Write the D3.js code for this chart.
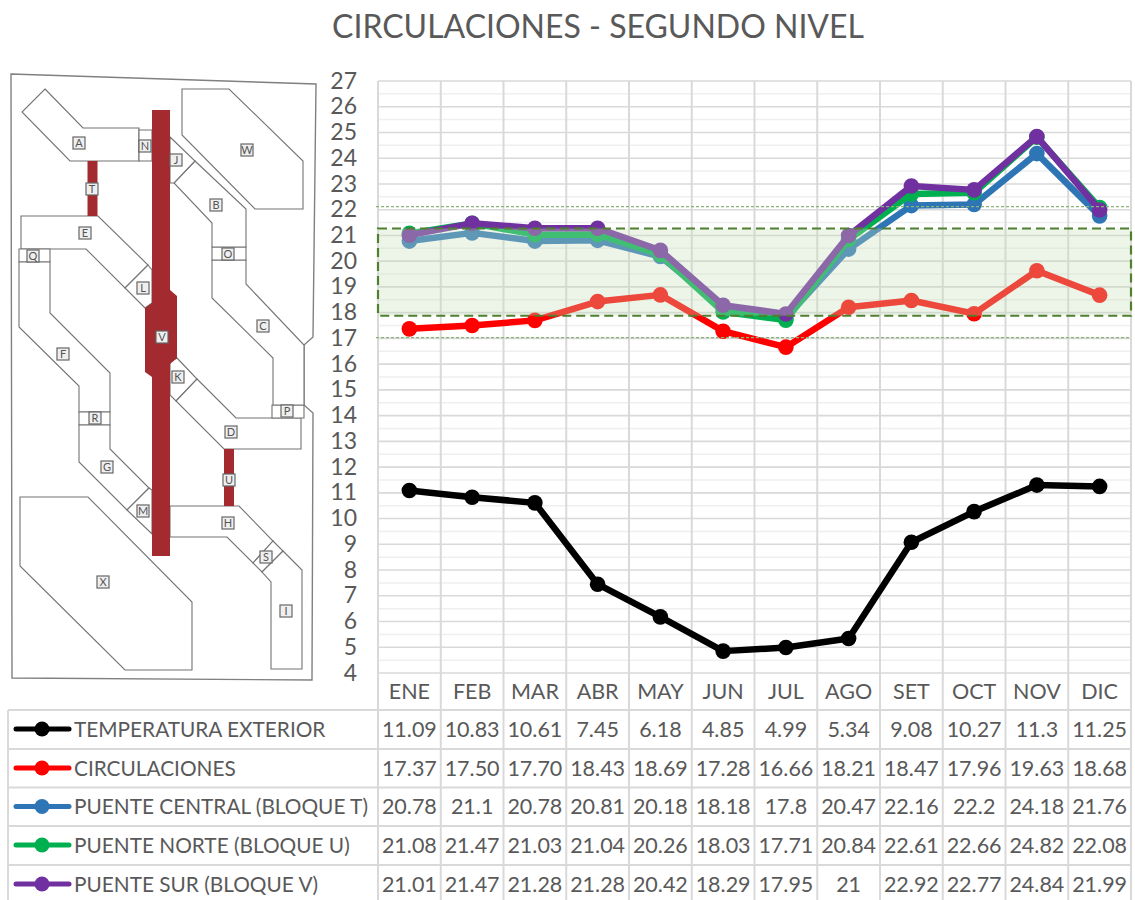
<!DOCTYPE html>
<html><head><meta charset="utf-8">
<script src="https://cdn.jsdelivr.net/npm/d3@7"></script>
<style>html,body{margin:0;padding:0;background:#fff}svg{display:block}text{font-family:Lato,"Open Sans",sans-serif}</style>
</head><body><svg id="c" width="1135" height="900"></svg>
<script>
const months=["ENE","FEB","MAR","ABR","MAY","JUN","JUL","AGO","SET","OCT","NOV","DIC"];
const yTicks=d3.range(4,28);
const seriesNames=["TEMPERATURA EXTERIOR","CIRCULACIONES","PUENTE CENTRAL (BLOQUE T)","PUENTE NORTE (BLOQUE U)","PUENTE SUR (BLOQUE V)"];
const seriesColors=["#000000","#ff0000","#2e75b6","#00b050","#7030a0"];
const exterior=[11.09,10.83,10.61,7.45,6.18,4.85,4.99,5.34,9.08,10.27,11.3,11.25];
const circulaciones=[17.37,17.50,17.70,18.43,18.69,17.28,16.66,18.21,18.47,17.96,19.63,18.68];
const central=[20.78,21.1,20.78,20.81,20.18,18.18,17.8,20.47,22.16,22.2,24.18,21.76];
const norte=[21.08,21.47,21.03,21.04,20.26,18.03,17.71,20.84,22.61,22.66,24.82,22.08];
const sur=[21.01,21.47,21.28,21.28,20.42,18.29,17.95,21,22.92,22.77,24.84,21.99];
const exteriorLabels=["11.09","10.83","10.61","7.45","6.18","4.85","4.99","5.34","9.08","10.27","11.3","11.25"];
const circulacionesLabels=["17.37","17.50","17.70","18.43","18.69","17.28","16.66","18.21","18.47","17.96","19.63","18.68"];
const centralLabels=["20.78","21.1","20.78","20.81","20.18","18.18","17.8","20.47","22.16","22.2","24.18","21.76"];
const norteLabels=["21.08","21.47","21.03","21.04","20.26","18.03","17.71","20.84","22.61","22.66","24.82","22.08"];
const surLabels=["21.01","21.47","21.28","21.28","20.42","18.29","17.95","21","22.92","22.77","24.84","21.99"];
const comfortBand=[17.88,21.27];
const comfortLimits=[17.03,22.12];

// Floor-plan inset: decorative drawing, not chart data
const planOutline=[[11,74],[316,84],[313,337],[304,345],[304,405],[313,413],[312,680],[12,678]];
const planRooms=[
[[45,89],[83,128],[139,128],[139,161],[70,161],[22,112]],
[[139,130],[152,130],[152,161],[139,161]],
[[21,216],[98,216],[148,265],[125,288],[86,249],[21,249]],
[[148,265],[152,270],[152,303],[145,308],[125,288]],
[[19,249],[50,249],[50,262],[19,262]],
[[19,262],[19,327],[79,386],[79,412],[110,412],[110,373],[50,313],[50,262]],
[[79,412],[110,412],[110,425],[79,425]],
[[79,425],[79,462],[127,510],[149,488],[110,449],[110,425]],
[[127,510],[152,534],[152,490],[149,488]],
[[170,506],[239,506],[273,541],[253,563],[227,537],[170,537]],
[[273,541],[283,551],[262,572],[253,563]],
[[283,551],[302,570],[302,669],[271,669],[271,582],[262,572]],
[[20,497],[88,497],[192,602],[192,670],[125,670],[20,566]],
[[177,358],[197,379],[176,401],[170,395],[170,362]],
[[197,379],[236,418],[301,418],[301,449],[224,449],[176,401]],
[[272,405],[304,405],[304,418],[272,418]],
[[212,260],[212,298],[273,358],[273,405],[304,405],[304,345],[246,284],[246,260]],
[[212,247],[246,247],[246,260],[212,260]],
[[195,161],[246,209],[246,247],[212,247],[212,223],[174,183]],
[[170,137],[195,161],[174,183],[170,183]],
[[182,89],[229,89],[303,161],[303,209],[255,209],[182,135]]
];
const planRed=[
[[152,110],[170,110],[170,290],[177,296],[177,358],[170,364],[170,556],[152,556],[152,377],[145,372],[145,308],[152,303]],
[[87.5,161],[97.5,161],[97.5,216],[87.5,216]],
[[224,449],[234,449],[234,506],[224,506]]
];
const planLabels=[["A",79,143],["N",145,146],["J",176,160],["B",216,205],["W",247,150],["T",92,189],["E",85,233],["Q",33,256],["O",228,254],["L",143,288],["C",263,326],["V",162,337],["F",63,354],["K",178,377],["R",95,418],["D",231,432],["P",287,411],["G",107,467],["U",229,480],["M",143,511],["H",228,523],["S",266,557],["X",103,582],["I",286,611]];

const series=[exterior,circulaciones,central,norte,sur];
const labels=[exteriorLabels,circulacionesLabels,centralLabels,norteLabels,surLabels];
const svg=d3.select("#c");
const x=d3.scaleBand().domain(months).range([378,1131]);
const y=d3.scaleLinear().domain([4,27]).range([673,81]);
const gridC="#d9d9d9", textC="#595959";

svg.append("text").attr("x",598).attr("y",38).attr("text-anchor","middle").attr("font-size",32).attr("fill",textC).text("CIRCULACIONES - SEGUNDO NIVEL");

// plan
const pg=svg.append("g");
const poly=d3.line().curve(d3.curveLinearClosed);
pg.append("path").attr("d",poly(planOutline)).attr("fill","#fff").attr("stroke","#808080").attr("stroke-width",1.4);
pg.selectAll(".room").data(planRooms).join("path").attr("d",d=>poly(d)).attr("fill","#fff").attr("stroke","#737373").attr("stroke-width",1.1);
pg.selectAll(".red").data(planRed).join("path").attr("d",d=>poly(d)).attr("fill","#a32a2f");
const lab=pg.selectAll(".lab").data(planLabels).join("g").attr("transform",d=>`translate(${d[1]},${d[2]})`);
lab.append("rect").attr("x",-6).attr("y",-6).attr("width",12).attr("height",12).attr("fill","#efefef").attr("stroke","#666").attr("stroke-width",1.2);
lab.append("text").attr("text-anchor","middle").attr("y",4).attr("font-size",11).attr("fill","#555").text(d=>d[0]);

// grid
const gh=svg.append("g");
gh.selectAll(".minor").data(yTicks.slice(0,-1)).join("line").attr("x1",378).attr("x2",1131).attr("y1",d=>y(d+.5)).attr("y2",d=>y(d+.5)).attr("stroke","#efefef").attr("stroke-width",1.5);
gh.selectAll(".major").data(yTicks).join("line").attr("x1",378).attr("x2",1131).attr("y1",d=>y(d)).attr("y2",d=>y(d)).attr("stroke",gridC).attr("stroke-width",1.6);
const vx=[...months.map(m=>x(m)),1131];
gh.selectAll(".v").data(vx).join("line").attr("x1",d=>d).attr("x2",d=>d).attr("y1",81).attr("y2",900).attr("stroke",gridC).attr("stroke-width",2);

// y axis
const ax=svg.append("g").attr("transform","translate(357,-1)").call(d3.axisLeft(y).tickValues(yTicks).tickSize(0).tickPadding(0).tickFormat(d3.format("d")));
ax.select(".domain").remove();
ax.selectAll("text").attr("font-size",23).attr("fill",textC).attr("font-family","Lato").attr("dy","0.35em");

// series
const line=d3.line().x((d,i)=>x(months[i])+x.bandwidth()/2).y(d=>y(d));
series.forEach((s,k)=>{
 const g=svg.append("g");
 g.append("path").attr("d",line(s)).attr("fill","none").attr("stroke",seriesColors[k]).attr("stroke-width",6.5).attr("stroke-linejoin","round");
 g.selectAll("circle").data(s).join("circle").attr("cx",(d,i)=>x(months[i])+x.bandwidth()/2).attr("cy",d=>y(d)).attr("r",7.8).attr("fill",seriesColors[k]);
});

// comfort band over lines
svg.append("rect").attr("x",378).attr("width",753).attr("y",y(comfortBand[1])).attr("height",y(comfortBand[0])-y(comfortBand[1]))
 .attr("fill","rgb(199,225,187)").attr("fill-opacity",.32).attr("stroke","#4f7f2f").attr("stroke-width",2.2).attr("stroke-dasharray","9 5");
svg.selectAll(".lim").data(comfortLimits).join("line").attr("x1",376).attr("x2",1131).attr("y1",d=>y(d)).attr("y2",d=>y(d)).attr("stroke","#8cb27a").attr("stroke-width",1.4).attr("stroke-dasharray","3 2");

// table
const rowY=[710,749,787.5,826,865];
const t=svg.append("g");
t.selectAll(".r").data(rowY).join("line").attr("x1",8).attr("x2",1131).attr("y1",d=>d).attr("y2",d=>d).attr("stroke",gridC).attr("stroke-width",2);
t.append("line").attr("x1",8).attr("x2",8).attr("y1",710).attr("y2",900).attr("stroke",gridC).attr("stroke-width",2);
t.selectAll(".m").data(months).join("text").attr("x",d=>x(d)+x.bandwidth()/2).attr("y",699).attr("text-anchor","middle").attr("font-size",21.5).attr("fill",textC).text(d=>d);
seriesNames.forEach((n,k)=>{
 const cy=rowY[k]+19;
 t.append("line").attr("x1",16).attr("x2",69).attr("y1",cy).attr("y2",cy).attr("stroke",seriesColors[k]).attr("stroke-width",5).attr("stroke-linecap","round");
 t.append("circle").attr("cx",42).attr("cy",cy).attr("r",7.5).attr("fill",seriesColors[k]);
 t.append("text").attr("x",74).attr("y",cy+7.5).attr("font-size",20.8).attr("fill",textC).text(n);
 t.selectAll(null).data(labels[k]).join("text").attr("x",(d,i)=>x(months[i])+x.bandwidth()/2).attr("y",cy+7.5).attr("text-anchor","middle").attr("font-size",21.5).attr("fill",textC).text(d=>d);
});
</script></body></html>
